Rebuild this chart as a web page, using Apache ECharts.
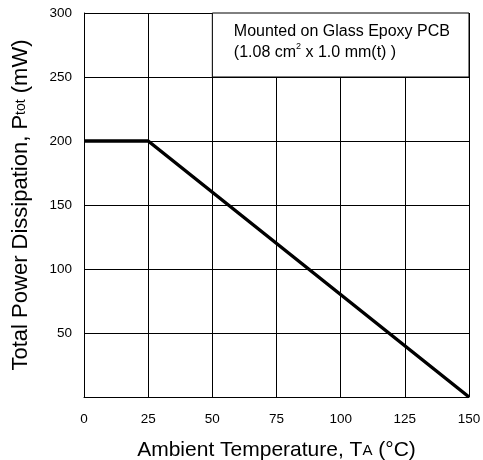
<!DOCTYPE html>
<html><head><meta charset="utf-8">
<script src="https://cdn.jsdelivr.net/npm/echarts@6/dist/echarts.min.js"></script>
<style>html,body{margin:0;padding:0;background:#fff}#c{width:483px;height:460px}</style>
</head><body><div id="c"></div>
<script>
const temps = [0, 25, 150];
const power = [200, 200, 0];
const xTicks = [0, 25, 50, 75, 100, 125, 150];
const yTicks = [50, 100, 150, 200, 250, 300];
const noteLines = ['Mounted on Glass Epoxy PCB', '(1.08 cm', '2', ' x 1.0 mm(t) )'];

const font = '"Liberation Sans", Arial, Helvetica, sans-serif';
const chart = echarts.init(document.getElementById('c'));
chart.setOption({
  animation: false,
  grid: {left: 84, right: 14, top: 13, bottom: 63, containLabel: false, outerBoundsMode: 'none'},
  xAxis: {
    type: 'value', min: 0, max: 150, interval: 25,
    axisLine: {show: true, lineStyle: {color: '#000', width: 1}},
    axisTick: {show: false},
    axisLabel: {color: '#000', fontSize: 13.5, fontFamily: font, margin: 15},
    splitLine: {show: true, lineStyle: {color: '#000', width: 1}},
    name: '{n|Ambient Temperature, T}{s|A}{n| (°C)}',
    nameLocation: 'middle', nameGap: 43,
    nameTextStyle: {rich: {
      n: {fontSize: 21, fontFamily: font, color: '#000'},
      s: {fontSize: 15, fontFamily: font, color: '#000'}
    }}
  },
  yAxis: {
    type: 'value', min: 0, max: 300, interval: 50,
    axisLine: {show: true, lineStyle: {color: '#000', width: 1}},
    axisTick: {show: false},
    axisLabel: {color: '#000', fontSize: 13.5, fontFamily: font, margin: 12,
      formatter: v => yTicks.includes(v) ? String(v) : ''},
    splitLine: {show: true, lineStyle: {color: '#000', width: 1}},
    name: '{n|Total Power Dissipation, P}{s|tot}{n| (mW)}',
    nameLocation: 'middle', nameGap: 52,
    nameTextStyle: {rich: {
      n: {fontSize: 22, fontFamily: font, color: '#000'},
      s: {fontSize: 14, fontFamily: font, color: '#000'}
    }}
  },
  series: [{
    type: 'line',
    data: temps.map((t, i) => [t, power[i]]),
    symbol: 'none',
    lineStyle: {color: '#000', width: 3.5},
    markArea: {
      silent: true,
      itemStyle: {color: '#fff', borderColor: '#000', borderWidth: 1},
      label: {
        show: true, position: 'insideTopLeft', distance: 0, offset: [22, 9],
        formatter: '{a|' + noteLines[0] + '}\n{a|' + noteLines[1] + '}{sup|' + noteLines[2] + '}{a|' + noteLines[3] + '}',
        rich: {
          a: {fontSize: 16, fontFamily: font, color: '#000', lineHeight: 21},
          sup: {fontSize: 9, fontFamily: font, color: '#000', verticalAlign: 'top', lineHeight: 21, padding: [0, 0, 7, 0]}
        }
      },
      data: [[{coord: [50, 250]}, {coord: [150, 300]}]]
    }
  }]
});
</script></body></html>
